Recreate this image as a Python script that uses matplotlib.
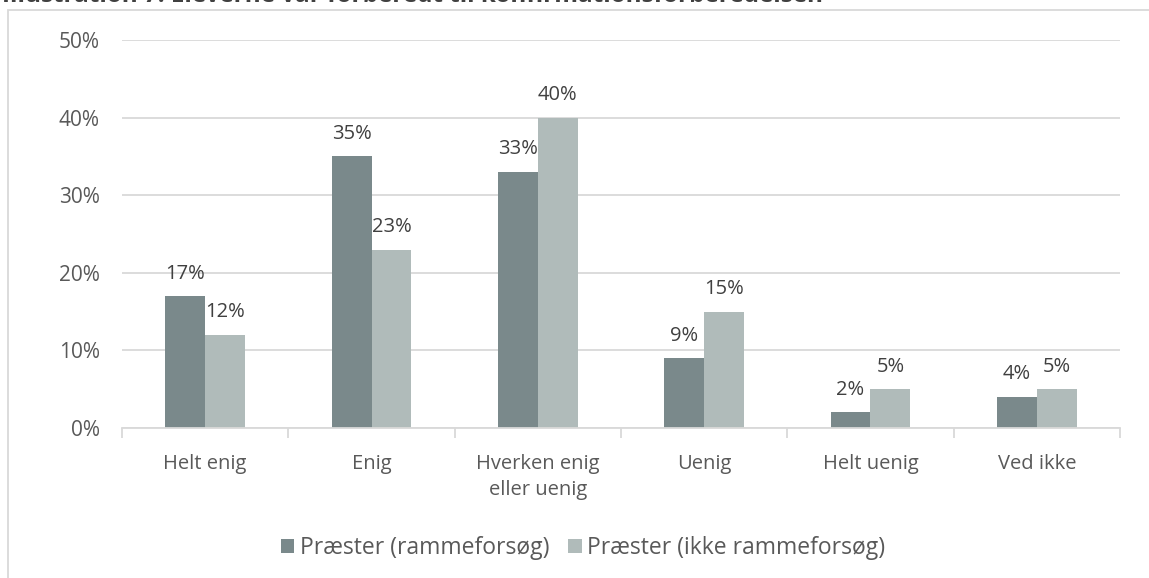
import matplotlib
matplotlib.use('Agg')
import matplotlib.pyplot as plt
import numpy as np

categories = ['Helt enig', 'Enig', 'Hverken enig\neller uenig', 'Uenig', 'Helt uenig', 'Ved ikke']
ramme = [17, 35, 33, 9, 2, 4]
ikke_ramme = [12, 23, 40, 15, 5, 5]
series_names = ['Præster (rammeforsøg)', 'Præster (ikke rammeforsøg)']
yticks = [0, 10, 20, 30, 40, 50]

plt.rcParams['font.family'] = ['Open Sans', 'DejaVu Sans']
txt = '#595959'
dark = '#7a898b'
light = '#b0bbba'
grid = '#d9d9d9'

fig = plt.figure(figsize=(11.49, 5.78), dpi=100)
ax = fig.add_axes([122 / 1149, 1 - 428 / 578, (1120 - 122) / 1149, (428 - 40) / 578])

x = np.arange(len(categories))
w = 0.24
b1 = ax.bar(x - w / 2, ramme, w, color=dark, label=series_names[0], zorder=3)
b2 = ax.bar(x + w / 2, ikke_ramme, w, color=light, label=series_names[1], zorder=3)

for bars, vals in ((b1, ramme), (b2, ikke_ramme)):
    for r, v in zip(bars, vals):
        ax.annotate('%d%%' % v, (r.get_x() + r.get_width() / 2, v),
                    xytext=(0, 9), textcoords='offset points',
                    ha='center', va='bottom', fontsize=14.5, color='#404040')

ax.set_xlim(-0.5, len(categories) - 0.5)
ax.set_ylim(0, 50)
ax.set_yticks(yticks)
ax.set_yticklabels(['%d%%' % t for t in yticks], fontsize=15, color=txt)
ax.set_xticks(x)
ax.set_xticklabels(categories, fontsize=14.5, color=txt, linespacing=1.35)
ax.tick_params(axis='y', length=0, pad=16)
ax.tick_params(axis='x', length=0, pad=19)
ax.set_xticks(np.arange(-0.5, len(categories)), minor=True)
ax.tick_params(axis='x', which='minor', length=7, color=grid, width=1.3)
ax.yaxis.grid(True, color=grid, linewidth=1.3, zorder=0)
for s in ['top', 'right', 'left']:
    ax.spines[s].set_visible(False)
ax.spines['bottom'].set_color(grid)
ax.spines['bottom'].set_linewidth(1.3)
ax.spines['bottom'].set_zorder(4)

leg = fig.legend(loc='center', bbox_to_anchor=(583 / 1149, 1 - 548 / 578), ncol=2,
                 frameon=False, fontsize=16.5, handlelength=0.6, handleheight=0.6,
                 handletextpad=0.25, columnspacing=0.8)
for t in leg.get_texts():
    t.set_color(txt)

# chart frame (extends past the picture on right and bottom)
fig.patches.append(plt.Rectangle((8 / 1149, -0.1), 1.2, 1 - 10 / 578 + 0.1,
                                 transform=fig.transFigure, fill=False,
                                 edgecolor='#d9d9d9', linewidth=1.3))
fig.text(2 / 1149, 1 + 4 / 578, 'Illustration 7: Eleverne var forberedt til konfirmationsforberedelsen',
         fontsize=17.5, fontweight='bold', color='#404040', ha='left', va='center')

fig.savefig('out.png', dpi=100)
